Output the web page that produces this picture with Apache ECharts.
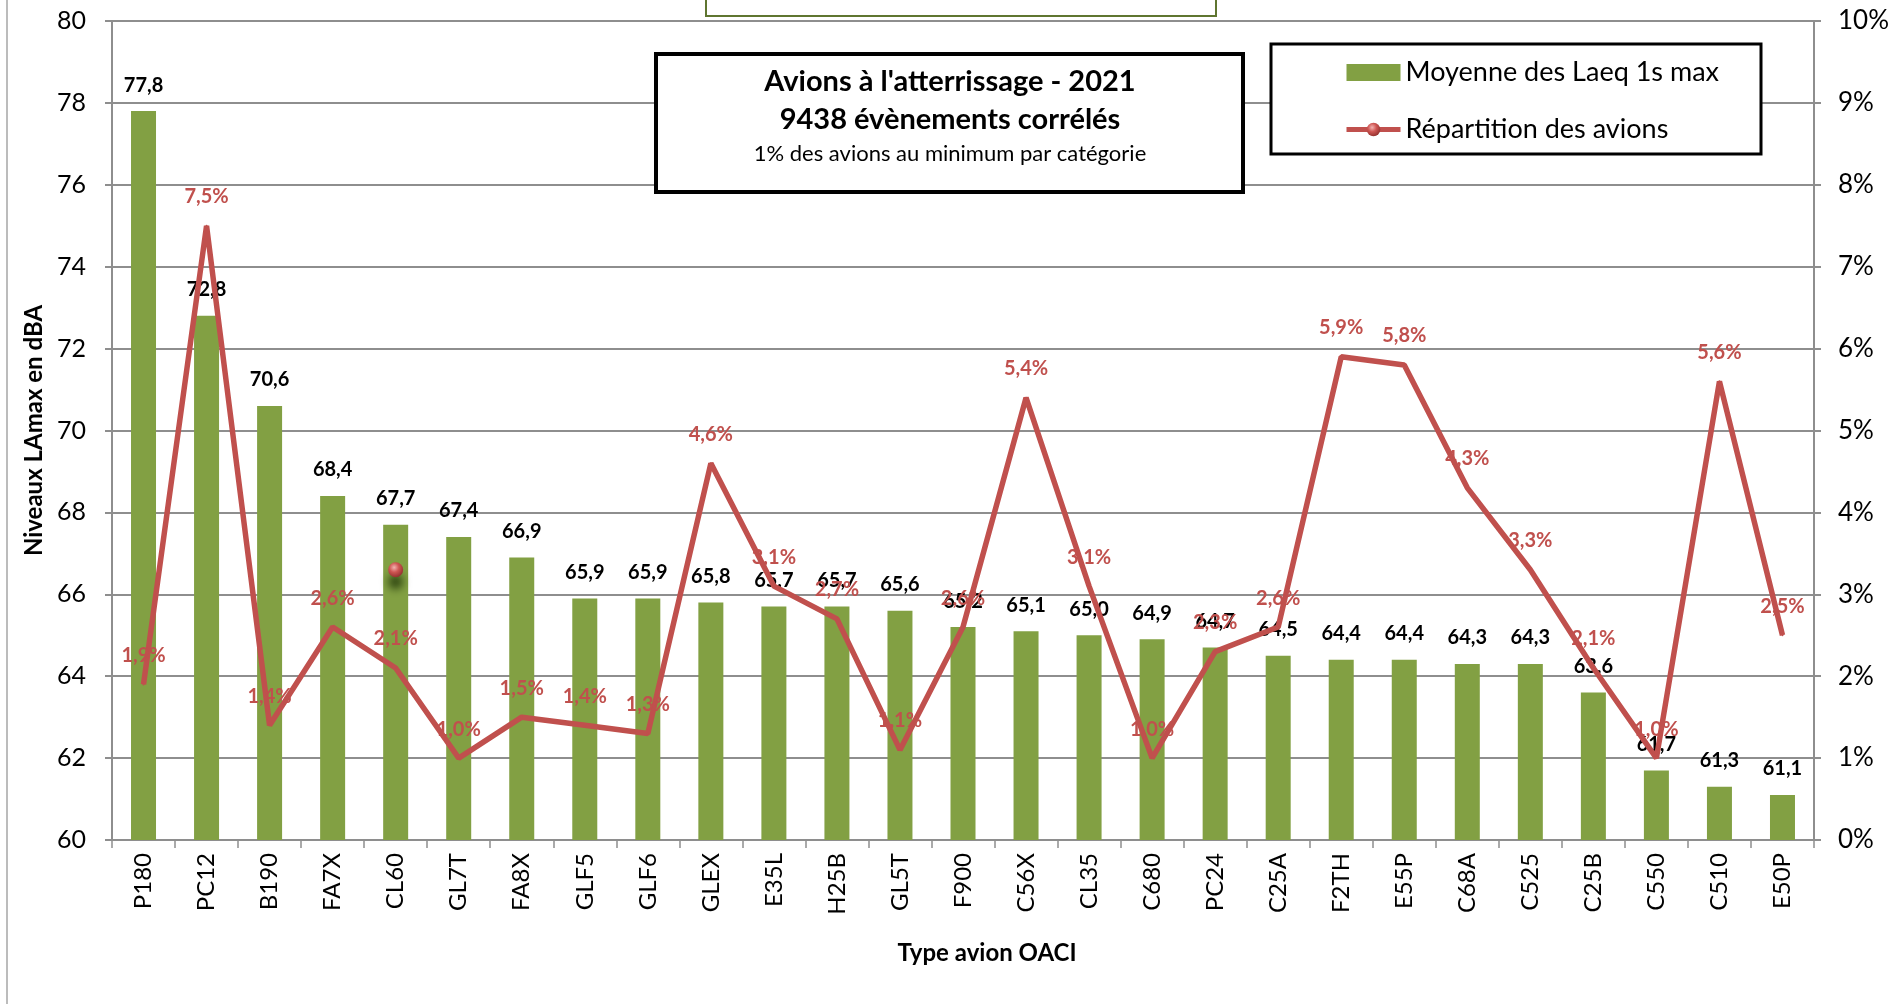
<!DOCTYPE html>
<html>
<head>
<meta charset="utf-8">
<title>Avions à l'atterrissage - 2021</title>
<script src="https://cdn.jsdelivr.net/npm/echarts@6/dist/echarts.min.js"></script>
<style>
  html, body { margin: 0; padding: 0; background: #ffffff; }
  #chart { width: 1892px; height: 1004px; }
</style>
</head>
<body>
<div id="chart"></div>
<script>
// Aircraft types (ICAO codes)
const categories = ['P180', 'PC12', 'B190', 'FA7X', 'CL60', 'GL7T', 'FA8X', 'GLF5', 'GLF6', 'GLEX',
  'E35L', 'H25B', 'GL5T', 'F900', 'C56X', 'CL35', 'C680', 'PC24', 'C25A', 'F2TH',
  'E55P', 'C68A', 'C525', 'C25B', 'C550', 'C510', 'E50P'];

// Mean of the 1 s max Laeq per type, dBA
const laeqMax = [77.8, 72.8, 70.6, 68.4, 67.7, 67.4, 66.9, 65.9, 65.9, 65.8,
  65.7, 65.7, 65.6, 65.2, 65.1, 65.0, 64.9, 64.7, 64.5, 64.4,
  64.4, 64.3, 64.3, 63.6, 61.7, 61.3, 61.1];

// Share of aircraft per type, %
const repartition = [1.9, 7.5, 1.4, 2.6, 2.1, 1.0, 1.5, 1.4, 1.3, 4.6,
  3.1, 2.7, 1.1, 2.6, 5.4, 3.1, 1.0, 2.3, 2.6, 5.9,
  5.8, 4.3, 3.3, 2.1, 1.0, 5.6, 2.5];

// Lone highlighted marker left on the distribution series
const loneMarker = ['CL60', 3.3];

// Axis ranges
const leftAxis = { min: 60, max: 80, interval: 2 };
const rightAxis = { min: 0, max: 10, interval: 1 };

const titleLines = ["Avions à l'atterrissage - 2021", '9438 évènements corrélés', '1% des avions au minimum par catégorie'];
const seriesNames = ['Moyenne des Laeq 1s max', 'Répartition des avions'];

const FONT = 'Lato, "Open Sans", sans-serif';
const GREEN = '#82a043';
const RED = '#c0504d';
const GRID = '#8e8e8e';

const comma = v => v.toFixed(1).replace('.', ',');

const sphere = {
  type: 'radial', x: 0.4, y: 0.35, r: 0.7,
  colorStops: [
    { offset: 0, color: '#f2b3b1' },
    { offset: 0.45, color: '#cf5653' },
    { offset: 1, color: '#8e2e2c' }
  ]
};

const chart = echarts.init(document.getElementById('chart'), null, { renderer: 'canvas' });

chart.setOption({
  backgroundColor: '#ffffff',
  animation: false,
  textStyle: { fontFamily: FONT },
  grid: { left: 112, right: 76, top: 21, height: 819, containLabel: false },
  legend: {
    orient: 'vertical',
    left: 1344,
    top: 59,
    padding: 0,
    itemGap: 30,
    itemWidth: 54,
    itemHeight: 17,
    z: 10,
    textStyle: { fontFamily: FONT, fontSize: 27, color: '#000', lineHeight: 26 },
    data: [
      { name: seriesNames[0], icon: 'rect' },
      { name: seriesNames[1], itemStyle: { color: sphere }, lineStyle: { width: 5, color: RED } }
    ]
  },
  xAxis: {
    type: 'category',
    data: categories,
    axisLine: { lineStyle: { color: GRID, width: 2 } },
    axisTick: { show: true, interval: 0, length: 8, lineStyle: { color: GRID, width: 1.5 } },
    axisLabel: {
      interval: 0, rotate: 90, margin: 13,
      fontFamily: FONT, fontSize: 24, color: '#000'
    }
  },
  yAxis: [
    {
      type: 'value',
      min: leftAxis.min, max: leftAxis.max, interval: leftAxis.interval,
      name: 'Niveaux LAmax en dBA',
      nameLocation: 'middle',
      nameGap: 62,
      nameTextStyle: { fontFamily: FONT, fontSize: 24, fontWeight: 'bold', color: '#000' },
      axisLine: { show: true, lineStyle: { color: GRID, width: 2 } },
      axisTick: { show: true, length: 7, lineStyle: { color: GRID, width: 2 } },
      axisLabel: { margin: 26, fontFamily: FONT, fontSize: 25, color: '#000' },
      splitLine: { show: true, lineStyle: { color: GRID, width: 2 } }
    },
    {
      type: 'value',
      position: 'right',
      min: rightAxis.min, max: rightAxis.max, interval: rightAxis.interval,
      axisLine: { show: true, lineStyle: { color: GRID, width: 2 } },
      axisTick: { show: true, length: 7, lineStyle: { color: GRID, width: 2 } },
      axisLabel: { margin: 24, fontFamily: FONT, fontSize: 26, color: '#000', formatter: v => v + '%' },
      splitLine: { show: false }
    }
  ],
  series: [
    {
      name: seriesNames[0],
      type: 'bar',
      yAxisIndex: 0,
      data: laeqMax,
      barWidth: 25,
      itemStyle: { color: GREEN },
      label: {
        show: true, position: 'top', distance: 16,
        fontFamily: FONT, fontSize: 20, fontWeight: 'bold', color: '#000',
        formatter: p => comma(p.value)
      },
      z: 2
    },
    {
      name: seriesNames[1],
      type: 'line',
      yAxisIndex: 1,
      data: repartition,
      symbol: 'circle',
      symbolSize: 2,
      showSymbol: true,
      color: RED,
      itemStyle: { color: RED },
      lineStyle: { color: RED, width: 5.5 },
      label: {
        show: true, position: 'top', distance: 18,
        fontFamily: FONT, fontSize: 20, fontWeight: 'bold', color: RED,
        formatter: p => comma(p.value) + '%'
      },
      markPoint: {
        symbol: 'circle',
        symbolSize: 15,
        label: { show: false },
        itemStyle: {
          color: sphere,
          shadowColor: 'rgba(20, 40, 0, 0.75)',
          shadowBlur: 8,
          shadowOffsetY: 12
        },
        data: [{ coord: loneMarker }]
      },
      z: 3
    }
  ],
  graphic: [
    {
      type: 'line', z: 1,
      shape: { x1: 7, y1: 0, x2: 7, y2: 1004 },
      style: { stroke: '#a6a6a6', lineWidth: 1.5 }
    },
    {
      type: 'rect', z: 5,
      shape: { x: 706, y: -10, width: 510, height: 26 },
      style: { fill: '#ffffff', stroke: '#5f7530', lineWidth: 2 }
    },
    {
      type: 'rect', z: 5,
      shape: { x: 656, y: 54, width: 587, height: 138 },
      style: { fill: '#ffffff', stroke: '#000000', lineWidth: 4 }
    },
    {
      type: 'text', z: 6, x: 950, y: 82,
      style: { text: titleLines[0], fontFamily: FONT, fontSize: 29, fontWeight: 'bold', fill: '#000', align: 'center', verticalAlign: 'middle' }
    },
    {
      type: 'text', z: 6, x: 950, y: 120,
      style: { text: titleLines[1], fontFamily: FONT, fontSize: 29, fontWeight: 'bold', fill: '#000', align: 'center', verticalAlign: 'middle' }
    },
    {
      type: 'text', z: 6, x: 950, y: 154,
      style: { text: titleLines[2], fontFamily: FONT, fontSize: 22, fill: '#000', align: 'center', verticalAlign: 'middle' }
    },
    {
      type: 'rect', z: 5,
      shape: { x: 1271, y: 44, width: 490, height: 110 },
      style: { fill: '#ffffff', stroke: '#000000', lineWidth: 3 }
    },
    {
      type: 'text', z: 6, x: 987, y: 953,
      style: { text: 'Type avion OACI', fontFamily: FONT, fontSize: 24, fontWeight: 'bold', fill: '#000', align: 'center', verticalAlign: 'middle' }
    }
  ]
});
</script>
</body>
</html>
